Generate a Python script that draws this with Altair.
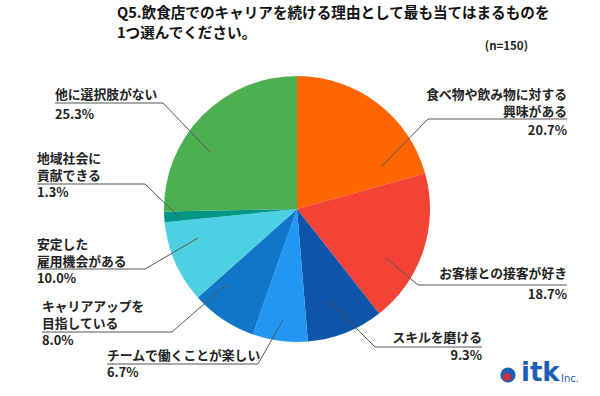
import altair as alt
import pandas as pd

# ---- data ----
categories = [
    "食べ物や飲み物に対する\n興味がある",
    "お客様との接客が好き",
    "スキルを磨ける",
    "チームで働くことが楽しい",
    "キャリアアップを\n目指している",
    "安定した\n雇用機会がある",
    "地域社会に\n貢献できる",
    "他に選択肢がない",
]
values = [20.7, 18.7, 9.3, 6.7, 8.0, 10.0, 1.3, 25.3]
colors = ["#FF6600", "#F44336", "#0D55A8", "#2196F3", "#1176C8", "#4DD0E1", "#009688", "#4CAF50"]

title_lines = ["Q5.飲食店でのキャリアを続ける理由として最も当てはまるものを", "1つ選んでください。"]
n_note = "(n=150)"

# ---- layout (pixel positions of annotations) ----
# side, text x, first line y, underline y, underline start/end x, percent y, inner point
layout = [
    ("right", 567, 95, 119, 428, 567, 131, (381, 167)),
    ("right", 567, 274, 285, 418, 567, 295, (385, 257)),
    ("right", 482, 338, 347, 375, 482, 356, (328, 300)),
    ("left", 107, 356, 364, 107, 258, 373, (283, 320)),
    ("left", 42, 307, 332, 42, 172, 341, (227, 284)),
    ("left", 37, 245, 269, 37, 145, 279, (198, 238)),
    ("left", 37, 159, 184, 37, 145, 193, (180, 218)),
    ("left", 55, 95, 103, 55, 163, 115, (210, 152)),
]
LINE_H = 16.5
CX, CY, R = 297, 209, 133
FONT = "Noto Sans CJK JP"
FS = 12.8

pie_df = pd.DataFrame({"cat": categories, "value": values, "order": list(range(len(values)))})

pie = alt.Chart(pie_df).mark_arc(radius=R).encode(
    theta=alt.Theta("value:Q", stack=True),
    order=alt.Order("order:Q"),
    color=alt.Color("cat:N", scale=alt.Scale(domain=categories, range=colors), legend=None),
    x=alt.value(CX),
    y=alt.value(CY),
)

text_rows = []
line_rows = []
for i, (cat, v, lay) in enumerate(zip(categories, values, layout)):
    side, tx, y1, uy, ux0, ux1, py, inner = lay
    text_rows.append({"t": cat, "x": tx, "y": y1, "side": side})
    text_rows.append({"t": f"{v:.1f}%", "x": tx, "y": py, "side": side})
    if side == "left":
        pts = [(ux0, uy), (ux1, uy), inner]
    else:
        pts = [(ux1, uy), (ux0, uy), inner]
    for k, (px, pyy) in enumerate(pts):
        line_rows.append({"g": i, "k": k, "x": px, "y": pyy})

text_df = pd.DataFrame(text_rows)
line_df = pd.DataFrame(line_rows)

X = lambda: alt.X("x:Q", scale=None, axis=None)
Y = lambda: alt.Y("y:Q", scale=None, axis=None)

leaders = alt.Chart(line_df).mark_line(color="#555555", strokeWidth=1).encode(
    x=X(), y=Y(), detail="g:N", order="k:Q"
)

def label_layer(df, align):
    return alt.Chart(df).mark_text(
        align=align, baseline="middle", font=FONT, fontSize=FS, fontWeight="bold",
        color="#222222", lineBreak="\n", lineHeight=LINE_H
    ).encode(x=X(), y=Y(), text="t:N")

left_text = label_layer(text_df[text_df.side == "left"], "left")
right_text = label_layer(text_df[text_df.side == "right"], "right")

title_df = pd.DataFrame({"t": title_lines, "x": [117, 117], "y": [14, 34]})
title = alt.Chart(title_df).mark_text(
    align="left", baseline="middle", font=FONT, fontSize=14.6, fontWeight="bold", color="#111111"
).encode(x=X(), y=Y(), text="t:N")

note = alt.Chart(pd.DataFrame({"t": [n_note], "x": [528], "y": [47]})).mark_text(
    align="right", baseline="middle", font=FONT, fontSize=11.5, fontWeight="bold", color="#222222"
).encode(x=X(), y=Y(), text="t:N")

# logo
logo_blue = alt.Chart(pd.DataFrame({"x": [508], "y": [375]})).mark_point(
    filled=True, opacity=1, size=230, color="#1d5fb5", shape="circle"
).encode(x=X(), y=Y())
logo_red = alt.Chart(pd.DataFrame({"x": [507], "y": [377]})).mark_point(
    filled=True, opacity=1, size=60, color="#d8302b", shape="circle"
).encode(x=X(), y=Y())
logo_txt = alt.Chart(pd.DataFrame({"t": ["itk"], "x": [521], "y": [381]})).mark_text(
    align="left", baseline="alphabetic", font="DejaVu Sans", fontSize=26, fontWeight="bold", color="#1d5fb5"
).encode(x=X(), y=Y(), text="t:N")
logo_inc = alt.Chart(pd.DataFrame({"t": ["Inc."], "x": [561], "y": [382]})).mark_text(
    align="left", baseline="alphabetic", font="DejaVu Sans", fontSize=10, color="#1d5fb5"
).encode(x=X(), y=Y(), text="t:N")

chart = alt.layer(
    pie, leaders, left_text, right_text, title, note, logo_blue, logo_red, logo_txt, logo_inc
).properties(
    width=600, height=396, autosize="none", padding=0, background="white"
).configure_view(strokeWidth=0)

chart.save("out.html", embed_options={"renderer": "svg", "actions": False})
